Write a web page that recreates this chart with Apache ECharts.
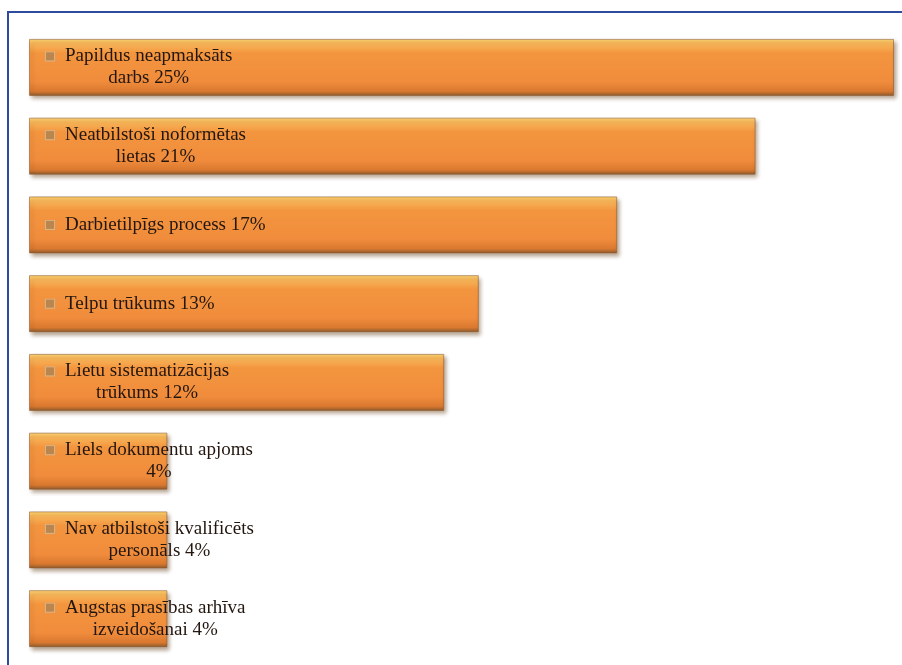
<!DOCTYPE html>
<html>
<head>
<meta charset="utf-8">
<script src="https://cdn.jsdelivr.net/npm/echarts@6/dist/echarts.min.js"></script>
<style>
  html, body { margin: 0; padding: 0; background: #fff; }
  #frame { position: absolute; left: 7px; top: 11px; width: 1000px; height: 1000px;
    border-top: 2px solid #2f4c9c; border-left: 2px solid #2f4c9c; }
  #chart_div { position: absolute; left: 0; top: 0; width: 902px; height: 665px; }
</style>
</head>
<body>
<div id="frame"></div>
<div id="chart_div"></div>
<script>
// kategorijas (rindas pārnesumi kā attēlā)
var categories = [
  'Papildus neapmaksāts\ndarbs 25%',
  'Neatbilstoši noformētas\nlietas 21%',
  'Darbietilpīgs process 17%',
  'Telpu trūkums 13%',
  'Lietu sistematizācijas\ntrūkums 12%',
  'Liels dokumentu apjoms\n4%',
  'Nav atbilstoši kvalificēts\npersonāls 4%',
  'Augstas prasības arhīva\nizveidošanai 4%'
]
// vērtības, %
var values = [25, 21, 17, 13, 12, 4, 4, 4]

var myChart = echarts.init(document.getElementById('chart_div'))

// etiķete: ikona pirmajā rindā, pārējās rindas centrētas zem teksta
function labelText(p) {
  var lines = p.name.split('\n')
  var out = []
  for (var i = 0; i < lines.length; i++) {
    if (i == 0) {
      out.push('{ic|}{g|}{t|' + lines[i] + '}')
    } else {
      out.push('{sp|}{t|' + lines[i] + '}')
    }
  }
  return out.join('\n')
}

var option = {
  animation: false,
  grid: { left: 29, right: 8, top: 28, height: 630 },
  xAxis: { type: 'value', min: 0, max: 25, show: false },
  yAxis: { type: 'category', data: categories, inverse: true, show: false },
  series: [{
    type: 'bar',
    data: values,
    barWidth: 57,
    itemStyle: {
      color: {
        type: 'linear', x: 0, y: 0, x2: 0, y2: 1,
        colorStops: [
          { offset: 0, color: '#fcd873' },
          { offset: 0.07, color: '#f8b95c' },
          { offset: 0.25, color: '#f3953f' },
          { offset: 0.75, color: '#f08c3c' },
          { offset: 0.92, color: '#d9782f' },
          { offset: 1, color: '#8c5a2e' }
        ]
      },
      borderColor: 'rgba(140,85,40,0.55)',
      borderWidth: 1,
      shadowColor: 'rgba(90,50,10,0.45)',
      shadowBlur: 4,
      shadowOffsetX: 2,
      shadowOffsetY: 3
    },
    label: {
      show: true,
      position: 'insideLeft',
      distance: 17,
      formatter: labelText,
      rich: {
        ic: { width: 8, height: 8, backgroundColor: '#b98650', borderColor: '#d9b385', borderWidth: 1 },
        g: { width: 11, height: 8 },
        sp: { width: 19, height: 8 },
        t: {
          align: 'center',
          fontFamily: '"Liberation Serif", "Times New Roman", serif',
          fontSize: 19,
          lineHeight: 22,
          color: '#22160f'
        }
      }
    }
  }]
}
myChart.setOption(option)
</script>
</body>
</html>
